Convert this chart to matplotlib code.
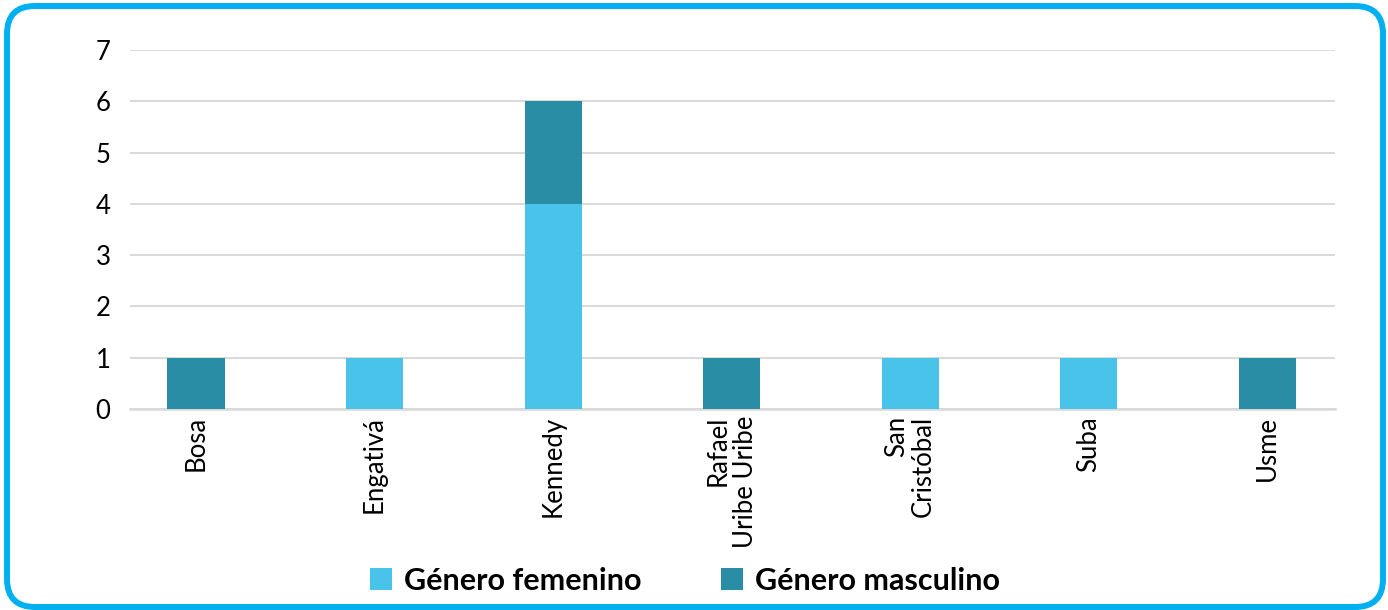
import matplotlib
matplotlib.use('Agg')
import matplotlib.pyplot as plt
from matplotlib.patches import FancyBboxPatch, Patch

plt.rcParams['font.family'] = ['Lato', 'DejaVu Sans']

localidades = ['Bosa', 'Engativá', 'Kennedy', 'Rafael\nUribe Uribe',
               'San\nCristóbal', 'Suba', 'Usme']
femenino = [0, 1, 4, 0, 1, 1, 0]
masculino = [1, 0, 2, 1, 0, 0, 1]

color_fem = '#49C3EA'
color_masc = '#298DA6'
grid_color = '#D9D9D9'

fig = plt.figure(figsize=(13.88, 6.10), dpi=100)
ax = fig.add_axes([130 / 1388, 1 - 409 / 610, 1205 / 1388, 359 / 610])

x = list(range(len(localidades)))
ax.bar(x, femenino, width=0.32, color=color_fem, zorder=3)
ax.bar(x, masculino, width=0.32, bottom=femenino, color=color_masc, zorder=3)

ax.set_xlim(-0.37, 6.38)
ax.set_ylim(0, 7)
ax.set_yticks(range(0, 8))
ax.yaxis.grid(True, color=grid_color, linewidth=1.4, zorder=0)
ax.set_axisbelow(True)

for s in ['top', 'right', 'left']:
    ax.spines[s].set_visible(False)
ax.spines['bottom'].set_color(grid_color)
ax.spines['bottom'].set_linewidth(1.8)

ax.tick_params(axis='both', length=0, labelsize=18.5, colors='black')
ax.tick_params(axis='y', pad=14)
ax.tick_params(axis='x', pad=5)
ax.set_xticks(x)
ax.set_xticklabels(localidades, rotation=90, ha='center', va='top',
                   multialignment='right', linespacing=1.1)

# leyenda
handles = [Patch(facecolor=color_fem, label='Género femenino'),
           Patch(facecolor=color_masc, label='Género masculino')]
fig.legend(handles=handles, loc='center', ncol=2,
           bbox_to_anchor=(685 / 1388, 1 - 581 / 610), frameon=False,
           prop={'size': 22, 'weight': 'bold'},
           handlelength=0.72, handleheight=0.72, handletextpad=0.4,
           columnspacing=2.6)

# marco redondeado
border = FancyBboxPatch((0.07, 0.03), 13.76, 6.01,
                        boxstyle='round,pad=0,rounding_size=0.28',
                        transform=fig.dpi_scale_trans, fill=False,
                        edgecolor='#00B0F0', linewidth=4.3)
fig.patches.append(border)

fig.savefig('out.png', dpi=100)
